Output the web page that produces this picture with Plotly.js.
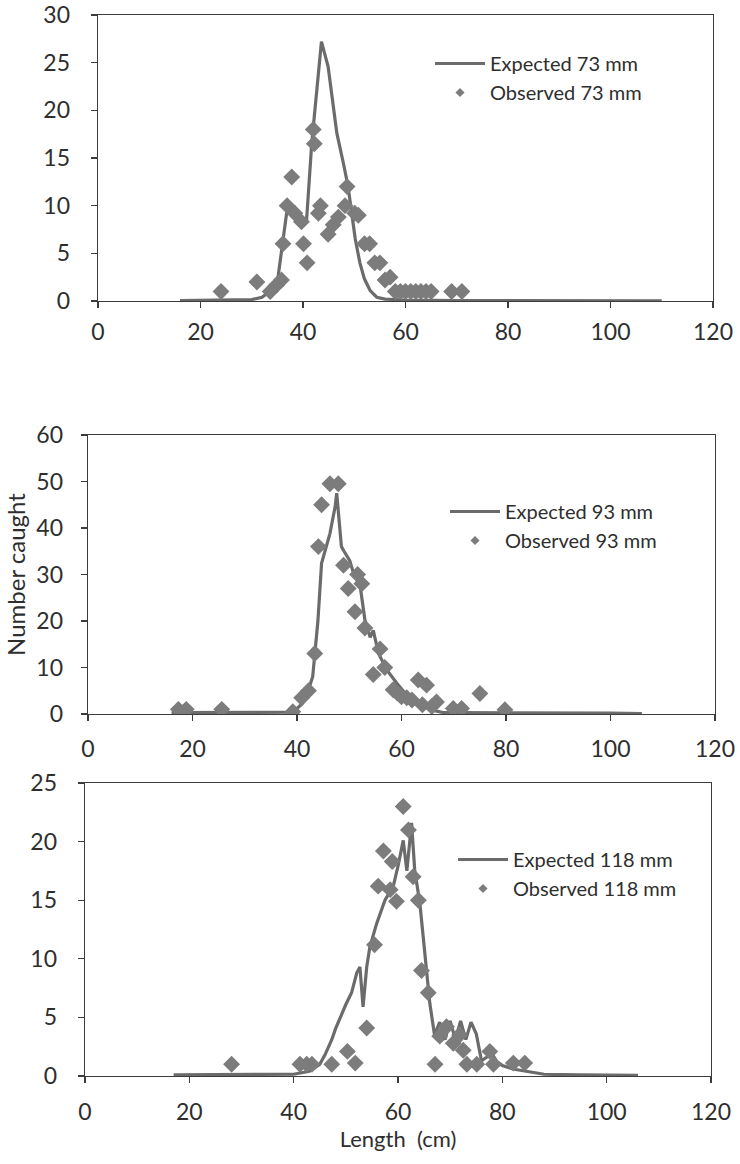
<!DOCTYPE html>
<html>
<head>
<meta charset="utf-8">
<script src="https://cdn.plot.ly/plotly-3.0.1.min.js"></script>
<style>
  html, body { margin: 0; padding: 0; background: #ffffff; }
  #chart { width: 740px; height: 1164px; }
</style>
</head>
<body>
<div id="chart"></div>
<script>
// ---- 73 mm mesh ----
const exp73X = [16, 20, 25, 30, 32, 34, 35, 36, 37, 38, 39, 40, 40.7, 41.7, 43, 43.6, 44.9, 46.6, 47.9, 48.8, 49.5, 50.2, 51.1, 52, 53.1, 54.4, 56, 60, 70, 80, 90, 100, 110];
const exp73Y = [0.05, 0.08, 0.1, 0.15, 0.4, 1.2, 2, 6, 10, 9.5, 9, 8.7, 8.5, 16.5, 23.5, 27.2, 24.6, 17.6, 14.4, 12, 9.2, 6.5, 4, 2.3, 1.1, 0.4, 0.2, 0.1, 0.05, 0.05, 0.04, 0.03, 0.02];
const obs73X = [24, 31, 33.6, 34.9, 35.8, 36.1, 36.9, 37.8, 38.4, 39.7, 40.1, 40.8, 42, 42.2, 43, 43.4, 44.9, 45.9, 46.9, 48.2, 48.6, 50.1, 50.8, 52, 53, 54, 55, 56, 57, 58, 59, 60, 61, 62, 63, 64, 65, 69, 71];
const obs73Y = [1, 2, 1, 1.7, 2.2, 6, 10, 13, 9.2, 8.3, 6, 4, 18, 16.5, 9.2, 10, 7, 8, 8.8, 10, 12, 9.2, 9, 6, 6, 4, 4, 2.2, 2.5, 1, 1, 1, 1, 1, 1, 1, 1, 1, 1];

// ---- 93 mm mesh ----
const exp93X = [16, 20, 25, 30, 35, 38, 39, 40, 41, 42, 43, 44, 44.7, 46.3, 47.3, 47.6, 48.5, 49, 50.1, 50.8, 52.1, 53, 54, 54.6, 55.6, 57.2, 59.1, 61, 63, 65.5, 68, 70, 80, 90, 100, 106];
const exp93Y = [0.3, 0.3, 0.3, 0.3, 0.3, 0.3, 0.4, 1.2, 2.2, 4.5, 8, 20, 32.4, 38.8, 44.6, 47.5, 36, 35, 33, 30.3, 27.4, 20.2, 16.5, 18, 13, 9.5, 6.6, 4.1, 2.3, 0.9, 0.3, 0.3, 0.3, 0.2, 0.2, 0.1];
const obs93X = [17.3, 18.8, 25.6, 39.2, 40.9, 42.2, 43.4, 44.1, 44.7, 46.3, 47.9, 48.9, 49.8, 51.1, 51.6, 52.4, 53, 54.6, 55.9, 56.8, 58.4, 59.2, 60, 61, 62, 63.2, 64, 64.8, 65.8, 66.7, 69.9, 71.5, 75, 79.8];
const obs93Y = [1, 1, 1, 0.5, 3.5, 5, 13, 36, 45, 49.5, 49.5, 32, 27, 22, 30, 28, 18.5, 8.5, 14, 10, 5.2, 4.5, 3.7, 3.5, 3, 7.3, 2, 6.2, 1.6, 2.6, 1.2, 1.2, 4.4, 0.9];

// ---- 118 mm mesh ----
const exp118X = [17, 25, 35, 40, 43, 45, 46, 47.3, 48, 49.2, 50, 51.1, 52.1, 52.7, 53.3, 54, 54.6, 55.9, 57.5, 59.1, 60, 61, 61.7, 62.6, 63.2, 64.2, 65.2, 66.1, 67, 68, 69, 70, 71, 72, 73, 74, 75, 76, 77, 78, 79, 80, 82, 85, 88, 95, 100, 106];
const exp118Y = [0.1, 0.1, 0.1, 0.15, 0.4, 1, 1.8, 3.1, 4, 5.3, 6.1, 7.1, 8.8, 9.3, 5.9, 9.3, 11, 13, 15, 16.2, 17.9, 20.1, 17.5, 21.6, 17.6, 14.7, 10.2, 6.2, 3.5, 4.6, 3.1, 4.7, 3.1, 4.7, 3.1, 4.6, 3.6, 1.3, 1.6, 1.9, 1.2, 0.9, 0.6, 0.35, 0.15, 0.1, 0.1, 0.05];
const obs118X = [28.1, 41.2, 42.5, 43.5, 47.3, 50.3, 51.8, 54, 55.5, 56.2, 57.2, 58.5, 58.9, 59.7, 61, 62, 62.9, 63.9, 64.5, 65.8, 67.1, 68, 69.3, 70.6, 71.8, 72.5, 73.2, 75.1, 77.6, 78.3, 82.1, 84.3];
const obs118Y = [1, 1, 1, 1, 1, 2.1, 1.1, 4.1, 11.2, 16.2, 19.2, 15.9, 18.3, 14.9, 23, 21, 17, 15, 9, 7.1, 1, 3.4, 4.2, 2.8, 3.5, 2.2, 1, 1, 2.1, 1, 1.1, 1.1];

const seriesNames = [
  ['Expected 73 mm', 'Observed 73 mm'],
  ['Expected 93 mm', 'Observed 93 mm'],
  ['Expected 118 mm', 'Observed 118 mm']
];
const xTicks = [0, 20, 40, 60, 80, 100, 120];

const LINE = '#6b6b6b';
const MARK = '#7c7c7c';
const AXIS = '#3c3c3c';
const TEXT = '#2e2e2e';
const FONT = 'Lato, "Open Sans", sans-serif';

const W = 740, H = 1164;
const px = v => v / W;
const py = v => 1 - v / H;

function lineTrace(x, y, ax) {
  return { x, y, type: 'scatter', mode: 'lines', xaxis: 'x' + ax, yaxis: 'y' + ax,
           line: { color: LINE, width: 3.2 }, showlegend: false, hoverinfo: 'skip' };
}
function markTrace(x, y, ax) {
  return { x, y, type: 'scatter', mode: 'markers', xaxis: 'x' + ax, yaxis: 'y' + ax,
           marker: { symbol: 'diamond', size: 13, color: MARK, line: { width: 0 } },
           showlegend: false, hoverinfo: 'skip' };
}
// legend-only entries (small symbols, as in the printed key)
function keyTraces(names, ax, leg) {
  return [
    { x: [null], y: [null], type: 'scatter', mode: 'lines', name: names[0], xaxis: 'x' + ax, yaxis: 'y' + ax,
      line: { color: LINE, width: 3.2 }, legend: leg },
    { x: [null], y: [null], type: 'scatter', mode: 'markers', name: names[1], xaxis: 'x' + ax, yaxis: 'y' + ax,
      marker: { symbol: 'diamond', size: 7, color: MARK }, legend: leg }
  ];
}

const data = [
  lineTrace(exp73X, exp73Y, ''), markTrace(obs73X, obs73Y, ''),
  lineTrace(exp93X, exp93Y, '2'), markTrace(obs93X, obs93Y, '2'),
  lineTrace(exp118X, exp118Y, '3'), markTrace(obs118X, obs118Y, '3'),
  ...keyTraces(seriesNames[0], '', 'legend'),
  ...keyTraces(seriesNames[1], '2', 'legend2'),
  ...keyTraces(seriesNames[2], '3', 'legend3')
];

function xAx(d0, d1, anchor, standoff) {
  return { domain: [px(d0), px(d1)], anchor, range: [0, 120], tickvals: xTicks,
           ticks: 'outside', ticklen: 6, tickwidth: 1.2, tickcolor: AXIS,
           showline: true, mirror: true, linecolor: AXIS, linewidth: 1.4,
           showgrid: false, zeroline: false, fixedrange: true,
           tickfont: { family: FONT, size: 23, color: TEXT }, ticklabelstandoff: standoff };
}
function yAx(d0, d1, anchor, max, step, standoff) {
  return { domain: [py(d1), py(d0)], anchor, range: [0, max], dtick: step, tick0: 0,
           ticks: 'outside', ticklen: 6, tickwidth: 1.2, tickcolor: AXIS,
           showline: true, mirror: true, linecolor: AXIS, linewidth: 1.4,
           showgrid: false, zeroline: false, fixedrange: true,
           tickfont: { family: FONT, size: 23, color: TEXT }, ticklabelstandoff: standoff };
}
function legendAt(x, y) {
  return { x: px(x), y: py(y), xanchor: 'left', yanchor: 'top', bgcolor: 'rgba(0,0,0,0)',
           borderwidth: 0, font: { family: FONT, size: 20, color: TEXT }, itemwidth: 50 };
}

const layout = {
  width: W, height: H,
  margin: { l: 0, r: 0, t: 0, b: 0 },
  paper_bgcolor: '#ffffff', plot_bgcolor: '#ffffff',
  showlegend: true,
  xaxis: xAx(98, 713, 'y', 4),
  yaxis: yAx(15, 301, 'x', 30, 5, 16),
  xaxis2: xAx(88, 715, 'y2', 8),
  yaxis2: Object.assign(yAx(435, 714, 'x2', 60, 10, 13), {
    title: { text: 'Number caught', font: { family: FONT, size: 24, color: TEXT }, standoff: 4 }
  }),
  xaxis3: Object.assign(xAx(85, 711, 'y3', 9), {
    title: { text: 'Length  (cm)', font: { family: FONT, size: 22, color: TEXT }, standoff: 6 }
  }),
  yaxis3: yAx(783, 1076, 'x3', 25, 5, 16),
  legend: legendAt(430, 44),
  legend2: legendAt(445, 492),
  legend3: legendAt(453, 840)
};

Plotly.newPlot('chart', data, layout, { staticPlot: true, displayModeBar: false });
</script>
</body>
</html>
